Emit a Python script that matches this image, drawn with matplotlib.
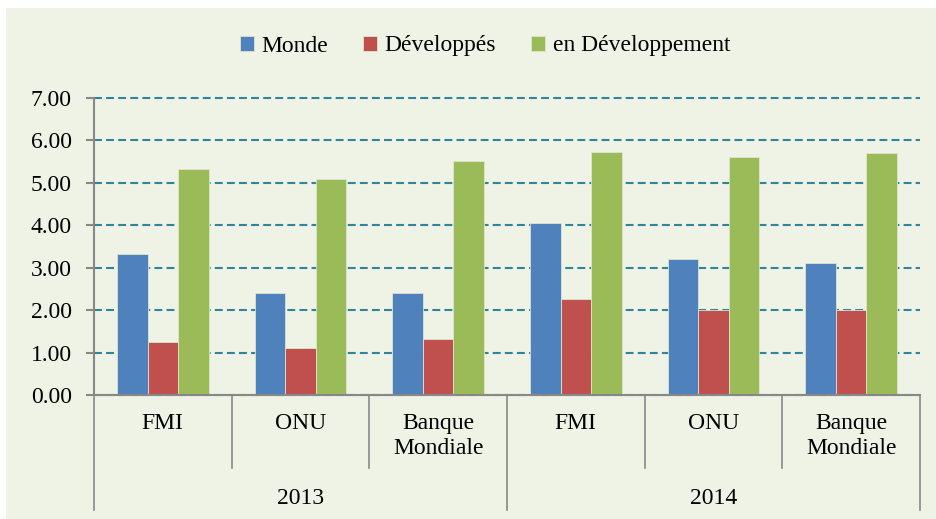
import matplotlib.pyplot as plt
import numpy as np
from matplotlib.patches import Rectangle

# data
years = ["2013", "2014"]
sources = ["FMI", "ONU", "Banque\nMondiale"]
monde = [3.32, 2.41, 2.41, 4.05, 3.20, 3.10]
developpes = [1.24, 1.11, 1.31, 2.26, 2.01, 2.01]
en_developpement = [5.32, 5.10, 5.52, 5.73, 5.61, 5.71]
series_names = ["Monde", "Développés", "en Développement"]
series_colors = ["#4F81BD", "#C0504D", "#9BBB59"]

plt.rcParams['font.family'] = ['Liberation Serif', 'DejaVu Serif']
FS = 17

fig = plt.figure(figsize=(9.36, 5.19), dpi=100)
fig.patch.set_facecolor("white")
# light panel behind the chart
fig.patches.append(Rectangle((6 / 936, 0), 1, 1 - 8 / 519, transform=fig.transFigure,
                             facecolor="#EFF3E5", edgecolor="none", zorder=-10))

ax = fig.add_axes([94 / 936, 1 - 395 / 519, (920 - 94) / 936, (395 - 98) / 519])
ax.set_facecolor("none")

n_cat = len(years) * len(sources)
x = np.arange(n_cat)
w = 0.222
for i, (vals, name, col) in enumerate(zip([monde, developpes, en_developpement], series_names, series_colors)):
    ax.bar(x + (i - 1) * w, vals, width=w, color=col, label=name,
           edgecolor="#DDE5D0", linewidth=0.6, zorder=3)

ax.set_xlim(-0.5, n_cat - 0.5)
ax.set_ylim(0, 7)
yt = np.arange(0, 7.5, 1)
ax.set_yticks(yt)
ax.set_yticklabels([f"{v:.2f}" for v in yt], fontsize=FS)
ax.yaxis.grid(True, color="#31849B", linewidth=1.5, linestyle=(0, (3.8, 2.0)), zorder=1)
for gl in ax.get_ygridlines():
    gl.set_clip_on(False)
ax.set_axisbelow(True)
ax.tick_params(axis="y", length=6, width=1.5, color="#888888", pad=10)
ax.set_xticks([])
for s in ["top", "right"]:
    ax.spines[s].set_visible(False)
for s in ["left", "bottom"]:
    ax.spines[s].set_color("#888888")
    ax.spines[s].set_linewidth(1.5)
ax.spines["bottom"].set_zorder(4)

# category separators and labels below the axis
trans = ax.get_xaxis_transform()
for k in range(n_cat + 1):
    xb = k - 0.5
    bottom = -0.387 if k % len(sources) == 0 else -0.246
    ax.plot([xb, xb], [0, bottom], transform=trans, color="#888888", lw=1.2, clip_on=False)
for k in range(n_cat):
    ax.text(k, -0.062, sources[k % len(sources)], transform=trans, ha="center", va="top",
            fontsize=FS, linespacing=1.25)
for j, yr in enumerate(years):
    xc = j * len(sources) + (len(sources) - 1) / 2
    ax.text(xc, -0.347, yr, transform=trans, ha="center", va="center", fontsize=FS)

fig.legend(loc="center", bbox_to_anchor=(0.518, 1 - 46 / 519), ncol=3, frameon=False,
           fontsize=FS, handlelength=0.6, handleheight=0.6, handletextpad=0.3,
           columnspacing=1.5)

fig.savefig("out.png", dpi=100, facecolor=fig.get_facecolor())
